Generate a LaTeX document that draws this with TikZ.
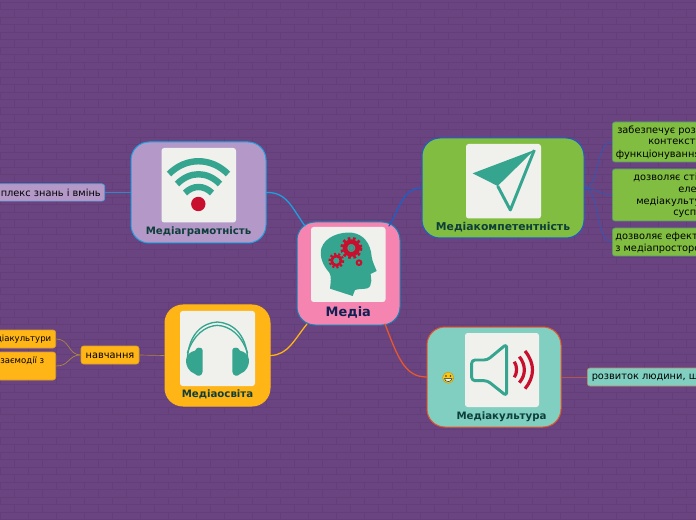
\documentclass[tikz,border=0pt]{standalone}
\usepackage{fontspec}
\setmainfont{DejaVu Sans}
\definecolor{BrickPurple}{RGB}{106,68,128}
\definecolor{BrickLine}{RGB}{99,62,120}
\definecolor{MediaPink}{RGB}{245,133,176}
\definecolor{LiteracyLilac}{RGB}{179,152,200}
\definecolor{CompetenceGreen}{RGB}{128,189,65}
\definecolor{EducationAmber}{RGB}{255,181,21}
\definecolor{CultureTeal}{RGB}{128,207,192}
\definecolor{IconPaper}{RGB}{240,241,237}
\definecolor{IconTeal}{RGB}{54,165,143}
\definecolor{IconRed}{RGB}{200,16,46}
\definecolor{LabelDark}{RGB}{14,62,58}
\definecolor{LabelNavy}{RGB}{16,32,84}
\definecolor{LinkSky}{RGB}{27,161,226}
\definecolor{LinkBlue}{RGB}{27,95,201}
\definecolor{LinkAmber}{RGB}{255,181,21}
\definecolor{LinkRed}{RGB}{232,88,42}
\definecolor{LinkBrown}{RGB}{176,134,66}
\definecolor{LinkRose}{RGB}{178,84,80}
\tikzset{
  TopicBox/.style={draw, line width=.75pt, rounded corners=13.5pt, inner sep=0pt},
  LeafBox/.style={draw, line width=.5pt, rounded corners=2pt, inner sep=0pt},
  PaperBox/.style={fill=IconPaper, rounded corners=2pt},
  TopicText/.style={font=\bfseries\fontsize{7.65pt}{9pt}\selectfont, text=LabelDark, inner sep=0pt},
  LeafText/.style={font=\fontsize{7.35pt}{9pt}\selectfont, text=black, inner sep=0pt, anchor=west},
  SmallText/.style={font=\fontsize{6.4pt}{8pt}\selectfont, text=black, inner sep=0pt, anchor=west},
  MainLink/.style={line width=.95pt, line cap=round},
  ThinLink/.style={line width=.5pt},
}
\begin{document}
\begin{tikzpicture}[x=.75pt, y=-.75pt]

  \useasboundingbox (0,0) rectangle (696,520);
  \clip (0,0) rectangle (696,520);

  \fill[BrickPurple] (0,0) rectangle (696,520);

  \foreach \row in {0,...,69} {
    \draw[BrickLine, line width=.35pt] (0,2+7.5*\row) -- (696,2+7.5*\row);
    \pgfmathsetmacro{\offs}{mod(\row,2)*14}
    \foreach \col in {-1,...,25} {
      \draw[BrickLine, line width=.35pt]
        (\offs+28*\col,2+7.5*\row) -- (\offs+28*\col,9.5+7.5*\row);
    }
  }

  \node[TopicBox, fill=MediaPink, draw=LinkSky!80!black, minimum width=77.25pt, minimum height=77.25pt]
    (media) at (348.5,273.5) {};
  \node[TopicBox, fill=LiteracyLilac, draw=LinkSky, minimum width=101.25pt, minimum height=75.75pt]
    (literacy) at (198.5,192.5) {};
  \node[TopicBox, fill=CompetenceGreen, draw=LinkBlue, minimum width=121.5pt, minimum height=75pt]
    (competence) at (503,188) {};
  \node[TopicBox, fill=EducationAmber, draw=EducationAmber, minimum width=78.75pt, minimum height=75.75pt]
    (education) at (217.5,355.5) {};
  \node[TopicBox, fill=CultureTeal, draw=LinkRed, minimum width=100.5pt, minimum height=75pt]
    (culture) at (494,377) {};

  \coordinate (mediaNW) at (305,226);
  \coordinate (mediaNE) at (389,226);
  \coordinate (mediaSW) at (307,324);
  \coordinate (mediaSE) at (385,324);

  \draw[MainLink, LinkSky] (literacy.east) .. controls (287,192) and (292,208) .. (mediaNW);
  \draw[MainLink, LinkBlue] (competence.west) .. controls (403,188) and (400,208) .. (mediaNE);
  \draw[MainLink, LinkAmber] (education.east) .. controls (288,355) and (294,340) .. (mediaSW);
  \draw[MainLink, LinkRed] (culture.west) .. controls (405,377) and (398,358) .. (mediaSE);

  % leaves on the left
  \node[LeafBox, fill=LiteracyLilac, draw=LinkSky!70!LiteracyLilac, minimum width=125pt, minimum height=13pt, anchor=east]
    (skills) at (105,192.5) {};
  \node[LeafBox, fill=EducationAmber, draw=LinkBrown!50!EducationAmber, minimum width=43.5pt, minimum height=13.5pt]
    (learning) at (110,355) {};
  \node[LeafBox, fill=EducationAmber, draw=LinkBrown!50!EducationAmber, minimum width=60pt, minimum height=13.5pt, anchor=east]
    (mediaculture) at (56,339) {};
  \node[LeafBox, fill=EducationAmber, draw=LinkBrown!50!EducationAmber, minimum width=60pt, minimum height=21pt, anchor=east]
    (interaction) at (56,366) {};

  \draw[ThinLink, LinkSky!70!BrickPurple] (skills.east) -- (literacy.west);
  \draw[ThinLink, LinkBrown] (learning.east) -- (education.west);
  \draw[ThinLink, LinkBrown] (learning.west) .. controls (68,355) and (70,339) .. (mediaculture.east);
  \draw[ThinLink, LinkBrown] (learning.west) .. controls (68,355) and (70,366) .. (interaction.east);

  % leaves on the right
  \node[LeafBox, fill=CompetenceGreen, draw=LinkBlue!40!CompetenceGreen, minimum width=100pt, minimum height=30pt, anchor=west]
    (context) at (612,142) {};
  \node[LeafBox, fill=CompetenceGreen, draw=LinkBlue!40!CompetenceGreen, minimum width=100pt, minimum height=39pt, anchor=west]
    (elements) at (612,195) {};
  \node[LeafBox, fill=CompetenceGreen, draw=LinkBlue!40!CompetenceGreen, minimum width=100pt, minimum height=21pt, anchor=west]
    (mediaspace) at (612,242) {};
  \node[LeafBox, fill=CultureTeal, draw=LinkRed!60!CultureTeal, minimum width=100pt, minimum height=13.5pt, anchor=west]
    (development) at (587,377) {};

  \draw[ThinLink, LinkBlue!80!BrickPurple] (competence.east) .. controls (600,188) and (595,142) .. (context.west);
  \draw[ThinLink, LinkBlue!80!BrickPurple] (competence.east) .. controls (598,188) and (598,195) .. (elements.west);
  \draw[ThinLink, LinkBlue!80!BrickPurple] (competence.east) .. controls (600,188) and (595,242) .. (mediaspace.west);
  \draw[ThinLink, LinkRose] (culture.east) -- (development.west);

  % paper squares
  \fill[PaperBox] (311,227) rectangle (385.5,302);
  \fill[PaperBox] (161.5,148) rectangle (236,222.5);
  \fill[PaperBox] (466,144) rectangle (541,218.5);
  \fill[PaperBox] (180,311) rectangle (255,386);
  \fill[PaperBox] (465,333) rectangle (539,407);

  % head with gears
  \begin{scope}[shift={(280,210)}, x=.25pt, y=-.25pt]
    \fill[IconTeal] (218,258) -- (150,236) .. controls (152,215) and (155,200) .. (148,188)
      .. controls (128,165) and (118,140) .. (124,115)
      .. controls (135,80) and (180,65) .. (215,68)
      .. controls (250,72) and (272,100) .. (275,140)
      .. controls (277,155) and (285,170) .. (290,183)
      -- (272,192) -- (274,212) .. controls (272,222) and (272,232) .. (262,235)
      .. controls (250,238) and (235,236) .. (225,240) -- cycle;
    \draw[IconRed, line width=3.4pt] (214,114) circle (19);
    \draw[IconRed, line width=2.2pt, dash pattern=on 2pt off 1.9pt] (214,114) circle (29);
    \draw[IconRed, line width=2pt] (169,152) circle (14);
    \draw[IconRed, line width=1.8pt, dash pattern=on 1.6pt off 1.5pt] (169,152) circle (20);
    \draw[IconRed, line width=1.5pt] (237,158) circle (7);
    \draw[IconTeal!70!IconRed, line width=.4pt] (214,114) circle (7);
  \end{scope}

  % wireless signal
  \begin{scope}[IconTeal, line width=4.8pt]
    \draw (169,174) .. controls (186,157) and (211,157) .. (228,174);
    \draw (177,184) .. controls (190,171) and (207,171) .. (220,184);
    \draw (185,193) .. controls (193,185) and (204,185) .. (212,193);
  \end{scope}
  \fill[IconRed] (198.3,204) circle (7.2);

  % paper plane
  \begin{scope}[shift={(400,110)}, x=.25pt, y=-.25pt]
    \fill[IconTeal] (403,120) -- (218,190) -- (293,228) -- cycle;
    \draw[IconTeal, line width=2.2pt, line join=round] (293,228) -- (331,300) -- (403,120);
  \end{scope}

  % headphones
  \begin{scope}[shift={(0,300)}, x=.25pt, y=-.25pt]
    \draw[IconTeal, line width=1pt] (562,180) .. controls (565,100) and (610,68) .. (652,66)
      .. controls (695,68) and (740,100) .. (743,180);
    \draw[IconTeal, line width=1pt] (562,160) .. controls (580,105) and (615,78) .. (652,76)
      .. controls (690,78) and (725,105) .. (743,160);
    \fill[IconTeal] (596,143) .. controls (610,143) and (608,150) .. (608,165) -- (608,215)
      .. controls (606,230) and (592,230) .. (585,222)
      .. controls (565,215) and (557,195) .. (558,180)
      .. controls (560,165) and (570,155) .. (585,152) .. controls (588,146) and (592,143) .. (596,143) -- cycle;
    \fill[IconTeal] (708,143) .. controls (695,143) and (697,150) .. (697,165) -- (697,215)
      .. controls (699,230) and (713,230) .. (720,222)
      .. controls (740,215) and (748,195) .. (747,180)
      .. controls (745,165) and (735,155) .. (720,152) .. controls (717,146) and (713,143) .. (708,143) -- cycle;
  \end{scope}

  % loudspeaker
  \begin{scope}[shift={(400,310)}, x=.25pt, y=-.25pt]
    \draw[IconTeal, line width=2.2pt, rounded corners=2.5pt, line join=round]
      (320,102) -- (262,150) -- (215,150) -- (215,212) -- (262,212) -- (320,258) -- cycle;
    \draw[IconRed, line width=2.4pt] (343,155) .. controls (352,170) and (352,188) .. (343,202);
    \draw[IconRed, line width=2.4pt] (358,140) .. controls (378,165) and (378,195) .. (358,218);
    \draw[IconRed, line width=2.4pt] (375,123) .. controls (405,160) and (405,200) .. (375,236);
  \end{scope}

  % smiley
  \fill[EducationAmber!80!yellow, draw=LabelDark!30!EducationAmber, line width=.25pt] (448.2,377.7) circle (5.6);
  \fill[LabelDark] (445.9,376) circle (.9);
  \fill[LabelDark] (450.5,376) circle (.9);
  \fill[IconPaper, draw=LabelDark!70!black, line width=.35pt] (444.5,378.6) -- (452,378.6) .. controls (451.5,382.5) and (445,382.5) .. (444.5,378.6) -- cycle;

  \node[TopicText, font=\bfseries\fontsize{9.7pt}{12pt}\selectfont, text=LabelNavy] (mediaLabel) at (348.3,312.5) {Медіа};
  \node[TopicText] (literacyLabel) at (198.5,231.5) {Медіаграмотність};
  \node[TopicText, font=\bfseries\fontsize{8.1pt}{9pt}\selectfont] (competenceLabel) at (503,227.5) {Медіакомпетентність};
  \node[TopicText] (educationLabel) at (217.5,394.5) {Медіаосвіта};
  \node[TopicText] (cultureLabel) at (501.5,416.5) {Медіакультура};

  \node[LeafText, anchor=east] (skillsLabel) at (101,192.5) {плекс знань і вмінь};
  \node[LeafText, anchor=center] (learningLabel) at (110,356) {навчання};
  \node[SmallText, anchor=east] (mediacultureLabel) at (51.5,339.5) {діакультури};
  \node[SmallText] (interactionLabel) at (0,361) {заємодії з};

  \node[LeafText] (contextA) at (617,130.5) {забезпечує роз};
  \node[LeafText] (contextB) at (648,142.5) {контексту};
  \node[LeafText] (contextC) at (615.5,155) {функціонування};
  \node[LeafText] (elementsA) at (633,177.5) {дозволяє сті};
  \node[LeafText] (elementsB) at (678,189.5) {еле};
  \node[LeafText] (elementsC) at (636,202) {медіакульту};
  \node[LeafText] (elementsD) at (673,214) {сусп};
  \node[LeafText] (mediaspaceA) at (615,237) {дозволяє ефект};
  \node[LeafText] (mediaspaceB) at (615,248.5) {з медіапросторо};
  \node[LeafText] (developmentLabel) at (591.5,377.5) {розвиток людини, ш};

\end{tikzpicture}
\end{document}
